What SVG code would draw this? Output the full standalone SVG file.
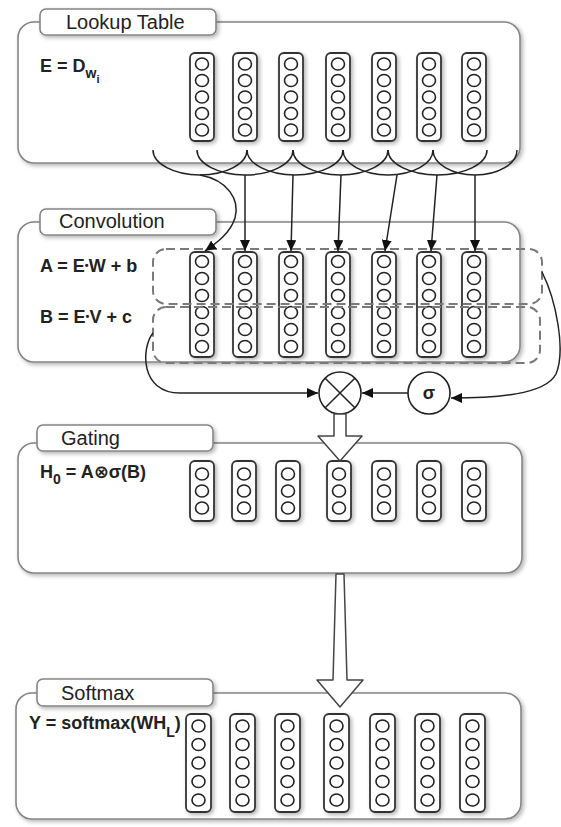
<svg xmlns="http://www.w3.org/2000/svg" xmlns:xlink="http://www.w3.org/1999/xlink" width="561" height="827" viewBox="0 0 561 827">
<style>
.box{fill:#fff;stroke:#858585;stroke-width:1.6}
.tab{fill:#fff;stroke:#858585;stroke-width:1.6}
.title{font-family:"Liberation Sans",Arial,sans-serif;font-size:20px;fill:#222}
.eq{font-family:"Liberation Sans",Arial,"DejaVu Sans",sans-serif;font-size:18px;font-weight:bold;fill:#222}
.colr{fill:#fff;stroke:#333;stroke-width:1.8}
.cir{fill:#fff;stroke:#222;stroke-width:1.6}
.dash{fill:none;stroke:#7a7a7a;stroke-width:2;stroke-dasharray:9 5}
.ln{fill:none;stroke:#222;stroke-width:1.5}
.ar{fill:none;stroke:#222;stroke-width:1.5;marker-end:url(#ah)}
.hollow{fill:#fff;stroke:#444;stroke-width:1.5;stroke-linejoin:round}
</style>
<defs>
<filter id="sh" x="-20%" y="-20%" width="150%" height="150%">
<feGaussianBlur in="SourceAlpha" stdDeviation="2"/>
<feOffset dx="2" dy="2"/>
<feComponentTransfer><feFuncA type="linear" slope="0.3"/></feComponentTransfer>
<feMerge><feMergeNode/><feMergeNode in="SourceGraphic"/></feMerge>
</filter>
<marker id="ah" markerUnits="userSpaceOnUse" markerWidth="12" markerHeight="10" refX="11" refY="5" orient="auto">
<path d="M0,0 L11,5 L0,10 z" fill="#111"/>
</marker>
<g id="col5">
<rect class="colr" x="0" y="0" width="24" height="88" rx="5"/>
<ellipse class="cir" cx="12" cy="11" rx="6.5" ry="6"/>
<ellipse class="cir" cx="12" cy="27.5" rx="6.5" ry="6"/>
<ellipse class="cir" cx="12" cy="44" rx="6.5" ry="6"/>
<ellipse class="cir" cx="12" cy="60.5" rx="6.5" ry="6"/>
<ellipse class="cir" cx="12" cy="77" rx="6.5" ry="6"/>
</g>
<g id="col6">
<rect class="colr" x="0" y="0" width="24" height="105" rx="5"/>
<ellipse class="cir" cx="12" cy="9.5" rx="6.5" ry="6"/>
<ellipse class="cir" cx="12" cy="26.5" rx="6.5" ry="6"/>
<ellipse class="cir" cx="12" cy="43.5" rx="6.5" ry="6"/>
<ellipse class="cir" cx="12" cy="60.5" rx="6.5" ry="6"/>
<ellipse class="cir" cx="12" cy="77.5" rx="6.5" ry="6"/>
<ellipse class="cir" cx="12" cy="94.5" rx="6.5" ry="6"/>
</g>
<g id="col3">
<rect class="colr" x="0" y="0" width="24" height="60" rx="5"/>
<ellipse class="cir" cx="12" cy="13" rx="6.5" ry="6"/>
<ellipse class="cir" cx="12" cy="30" rx="6.5" ry="6"/>
<ellipse class="cir" cx="12" cy="47" rx="6.5" ry="6"/>
</g>
<g id="col5s">
<rect class="colr" x="0" y="0" width="25" height="98" rx="5"/>
<ellipse class="cir" cx="12.5" cy="12" rx="6.5" ry="6"/>
<ellipse class="cir" cx="12.5" cy="30.5" rx="6.5" ry="6"/>
<ellipse class="cir" cx="12.5" cy="49" rx="6.5" ry="6"/>
<ellipse class="cir" cx="12.5" cy="67.5" rx="6.5" ry="6"/>
<ellipse class="cir" cx="12.5" cy="86" rx="6.5" ry="6"/>
</g>
</defs>
<rect width="561" height="827" fill="#fff"/>

<g id="lookup">
<rect class="box" x="18" y="22" width="502" height="141" rx="16" filter="url(#sh)"/>
<rect class="tab" x="40" y="9" width="176" height="26" rx="6" filter="url(#sh)"/>
<text class="title" x="66" y="29">Lookup Table</text>
<text class="eq" x="40" y="72">E = D<tspan font-size="14" dy="6">w</tspan><tspan font-size="11" dy="5">i</tspan></text>
<g filter="url(#sh)">
<use xlink:href="#col5" x="190" y="53"/>
<use xlink:href="#col5" x="233" y="53"/>
<use xlink:href="#col5" x="279" y="53"/>
<use xlink:href="#col5" x="326" y="53"/>
<use xlink:href="#col5" x="372" y="53"/>
<use xlink:href="#col5" x="417" y="53"/>
<use xlink:href="#col5" x="462" y="53"/>
</g>
</g>

<g id="convolution">
<rect class="box" x="18" y="222" width="502" height="140" rx="16" filter="url(#sh)"/>
<rect class="tab" x="40" y="209" width="176" height="26" rx="6" filter="url(#sh)"/>
<text class="title" x="59" y="228">Convolution</text>
<text class="eq" x="40" y="272">A = E<tspan font-size="11" dy="-3">•</tspan><tspan dy="3">W + b</tspan></text>
<text class="eq" x="40" y="323">B = E<tspan font-size="11" dy="-3">•</tspan><tspan dy="3">V + c</tspan></text>
<g filter="url(#sh)">
<use xlink:href="#col6" x="190" y="252"/>
<use xlink:href="#col6" x="233" y="252"/>
<use xlink:href="#col6" x="279" y="252"/>
<use xlink:href="#col6" x="326" y="252"/>
<use xlink:href="#col6" x="372" y="252"/>
<use xlink:href="#col6" x="417" y="252"/>
<use xlink:href="#col6" x="462" y="252"/>
</g>
<rect class="dash" x="153" y="249" width="389" height="55" rx="13"/>
<rect class="dash" x="153" y="307" width="387" height="56" rx="13"/>
</g>

<g id="otimes">
<circle cx="340" cy="393" r="21" fill="#fff" stroke="#222" stroke-width="1.6"/>
<path class="ln" d="M325.2,378.2 L354.8,407.8 M354.8,378.2 L325.2,407.8"/>
</g>
<g id="sigma">
<circle cx="429" cy="393" r="21" fill="#fff" stroke="#222" stroke-width="1.6"/>
<text class="eq" x="429" y="399" text-anchor="middle">σ</text>
</g>

<g id="gating">
<rect class="box" x="18" y="443" width="504" height="130" rx="16" filter="url(#sh)"/>
<rect class="tab" x="37" y="425" width="176" height="26" rx="6" filter="url(#sh)"/>
<text class="title" x="61" y="445">Gating</text>
<text class="eq" x="40" y="478">H<tspan font-size="14" dy="6">0</tspan><tspan dy="-6"> = A⊗σ(B)</tspan></text>
<g filter="url(#sh)">
<use xlink:href="#col3" x="190" y="461"/>
<use xlink:href="#col3" x="232" y="461"/>
<use xlink:href="#col3" x="276" y="461"/>
<use xlink:href="#col3" x="327" y="461"/>
<use xlink:href="#col3" x="372" y="461"/>
<use xlink:href="#col3" x="417" y="461"/>
<use xlink:href="#col3" x="462" y="461"/>
</g>
</g>

<g id="softmax">
<rect class="box" x="16" y="693" width="505" height="126" rx="16" filter="url(#sh)"/>
<rect class="tab" x="37" y="679" width="176" height="27" rx="6" filter="url(#sh)"/>
<text class="title" x="61" y="700">Softmax</text>
<text class="eq" x="29" y="729">Y = softmax(WH<tspan font-size="14" dy="8">L</tspan><tspan dy="-8">)</tspan></text>
<g filter="url(#sh)">
<use xlink:href="#col5s" x="186" y="714"/>
<use xlink:href="#col5s" x="230" y="714"/>
<use xlink:href="#col5s" x="275" y="714"/>
<use xlink:href="#col5s" x="324" y="714"/>
<use xlink:href="#col5s" x="370" y="714"/>
<use xlink:href="#col5s" x="415" y="714"/>
<use xlink:href="#col5s" x="460" y="714"/>
</g>
</g>

<g id="connectors">
<path class="ln" d="M153,150 A47,25 0 0 0 247,150"/>
<path class="ln" d="M197,150 A48,25 0 0 0 293,150"/>
<path class="ln" d="M247,150 A48,25 0 0 0 343,150"/>
<path class="ln" d="M293,150 A47.5,25 0 0 0 388,150"/>
<path class="ln" d="M343,150 A45,25 0 0 0 433,150"/>
<path class="ln" d="M388,150 A49.5,25 0 0 0 487,150"/>
<path class="ln" d="M433,150 A42,25 0 0 0 517,150"/>
<path class="ar" d="M200,175 C228,180 240,200 235,218 C230,234 215,244 205,251"/>
<path class="ar" d="M245,175 L245,251"/>
<path class="ar" d="M293,175 L291,251"/>
<path class="ar" d="M341,175 L338,251"/>
<path class="ar" d="M397,175 L385,251"/>
<path class="ar" d="M437,175 L431,251"/>
<path class="ar" d="M475,175 L475,251"/>
<path class="ar" d="M153,333 C141,348 140,393 180,393 L318,393"/>
<path class="ar" d="M542,272 C556,300 566,350 556,374 C545,395 495,398 451,398"/>
<path class="ar" d="M408,393 L362,393"/>
<polygon class="hollow" points="334,414 346,414 346,436 362,436 340,461 318,436 334,436"/>
<polygon class="hollow" points="336,574 344,574 347,680 363,680 340,707 317,680 333,680"/>
</g>
</svg>
